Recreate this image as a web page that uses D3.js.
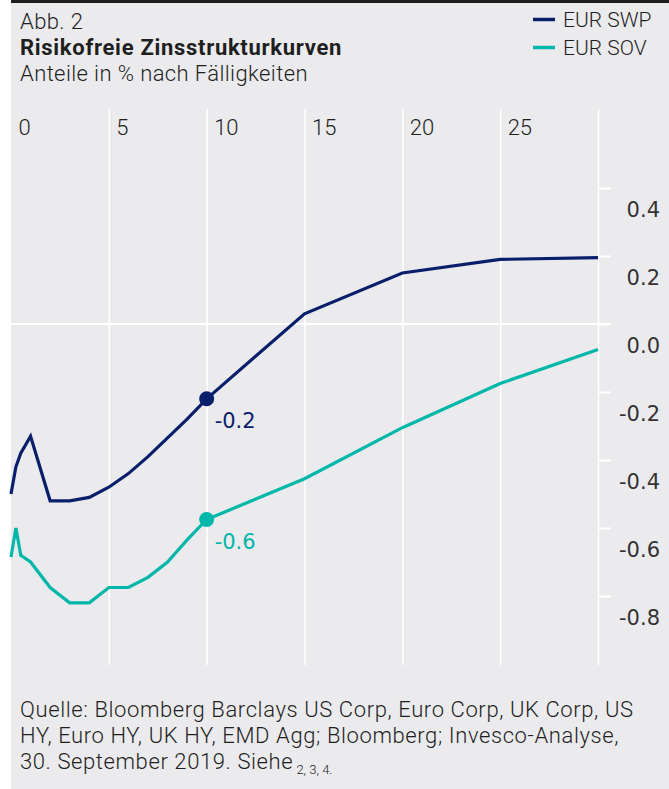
<!DOCTYPE html>
<html>
<head>
<meta charset="UTF-8">
<title>Risikofreie Zinsstrukturkurven</title>
<script src="https://d3js.org/d3.v7.min.js"></script>
<style>
  body { margin: 0; background: #fff; }
  svg { display: block; }
  .head { font-family: Roboto, "Liberation Sans", sans-serif; font-weight: 300; fill: #1f1f1f; }
  .num { font-family: "DejaVu Sans", sans-serif; }
</style>
</head>
<body>
<svg width="669" height="789"></svg>
<script>
// maturities in years
var maturities = [0, 0.25, 0.5, 1, 2, 3, 4, 5, 6, 7, 8, 9, 10, 15, 20, 25, 30];
var eurSwp = [-0.50, -0.42, -0.38, -0.33, -0.52, -0.52, -0.51, -0.48, -0.44, -0.39, -0.335, -0.28, -0.22, 0.03, 0.15, 0.19, 0.195];
var eurSov = [-0.685, -0.60, -0.68, -0.70, -0.775, -0.82, -0.82, -0.775, -0.775, -0.745, -0.70, -0.635, -0.575, -0.455, -0.305, -0.175, -0.075];
var xTicks = [0, 5, 10, 15, 20, 25];
var yTicks = [0.4, 0.2, 0.0, -0.2, -0.4, -0.6, -0.8];
var seriesNames = ["EUR SWP", "EUR SOV"];
var seriesColors = ["#0a1f6b", "#00b7aa"];
var markAt = 10;

var svg = d3.select("svg");

svg.append("rect").attr("x", 11).attr("y", 0).attr("width", 658).attr("height", 789).attr("fill", "#ebebed");
svg.append("rect").attr("x", 11).attr("y", 0).attr("width", 658).attr("height", 3).attr("fill", "#1e1e1e");

var x = d3.scaleLinear().domain([0, 30]).range([11, 598]);
var y = d3.scaleLinear().domain([-0.8, 0.4]).range([596, 188]);

// header
svg.append("text").attr("class", "head").attr("x", 20).attr("y", 29).attr("font-size", 22)
  .attr("letter-spacing", 0.4).text("Abb. 2");
svg.append("text").attr("class", "head").attr("x", 20).attr("y", 55).attr("font-size", 22)
  .attr("letter-spacing", 0.7).style("font-weight", 700).text("Risikofreie Zinsstrukturkurven");
svg.append("text").attr("class", "head").attr("x", 20).attr("y", 81).attr("font-size", 22)
  .attr("letter-spacing", 0.4).text("Anteile in % nach Fälligkeiten");

// legend
var leg = svg.append("g").selectAll("g").data(seriesNames).enter().append("g")
  .attr("transform", function(d, i) { return "translate(533," + (27 + i * 28) + ")"; });
leg.append("line").attr("x1", 0).attr("x2", 22).attr("y1", -7.5).attr("y2", -7.5)
  .attr("stroke", function(d, i) { return seriesColors[i]; }).attr("stroke-width", 3.5);
leg.append("text").attr("class", "head").attr("x", 30).attr("y", 0).attr("font-size", 21).text(function(d) { return d; });

// x axis: vertical grid lines with labels to the right
var gx = svg.append("g").attr("transform", "translate(0,109)")
  .call(d3.axisBottom(x).tickValues(xTicks.concat([30])).tickSize(556).tickFormat(function(d) { return d < 30 ? d : ""; }));
gx.select(".domain").remove();
gx.selectAll(".tick line").attr("stroke", "#fff").attr("stroke-width", 1.5)
  .attr("opacity", function(d) { return d === 0 ? 0 : 1; });
gx.selectAll(".tick text").attr("class", "head").attr("font-size", 22).attr("text-anchor", "start")
  .attr("x", 7).attr("y", 26).attr("dy", 0);

// zero line
svg.append("line").attr("x1", 11).attr("x2", 611).attr("y1", y(0)).attr("y2", y(0))
  .attr("stroke", "#fff").attr("stroke-width", 2);

// y axis on the right, labels below ticks
var gy = svg.append("g").attr("transform", "translate(598,0)")
  .call(d3.axisRight(y).tickValues(yTicks).tickSize(13).tickFormat(d3.format(".1f")));
gy.select(".domain").remove();
gy.selectAll(".tick line").attr("stroke", "#fff").attr("stroke-width", 2);
gy.selectAll(".tick text").attr("class", "num").attr("font-size", 21).attr("fill", "#333")
  .attr("text-anchor", "end").attr("x", 62).attr("dy", 0).attr("y", 28)
  .text(function(d) { return d3.format(".1f")(d).replace("−", "-"); });

// lines
var line = d3.line().x(function(d) { return x(d[0]); }).y(function(d) { return y(d[1]); });
var series = [eurSwp, eurSov];
series.forEach(function(vals, i) {
  var pts = maturities.map(function(m, j) { return [m, vals[j]]; });
  svg.append("path").datum(pts).attr("d", line).attr("fill", "none")
    .attr("stroke", seriesColors[i]).attr("stroke-width", 3.2).attr("stroke-linejoin", "miter");
  var k = maturities.indexOf(markAt);
  svg.append("circle").attr("cx", x(markAt)).attr("cy", y(vals[k])).attr("r", 7.5).attr("fill", seriesColors[i]);
  svg.append("text").attr("class", "num").attr("x", x(markAt) + 8).attr("y", y(vals[k]) + 29)
    .attr("font-size", 21).attr("fill", seriesColors[i])
    .text(d3.format(".1f")(vals[k]).replace("−", "-"));
});

// footer
var foot = ["Quelle: Bloomberg Barclays US Corp, Euro Corp, UK Corp, US",
            "HY, Euro HY, UK HY, EMD Agg; Bloomberg; Invesco-Analyse,",
            "30. September 2019. Siehe"];
foot.forEach(function(t, i) {
  var tx = svg.append("text").attr("class", "head").attr("x", 20).attr("y", 717 + i * 26)
    .attr("font-size", 22).attr("letter-spacing", 0.6).text(t);
  if (i === 2) {
    tx.append("tspan").attr("font-size", 13).attr("letter-spacing", 0).attr("dy", 5).text(" 2, 3, 4.");
  }
});
</script>
</body>
</html>
